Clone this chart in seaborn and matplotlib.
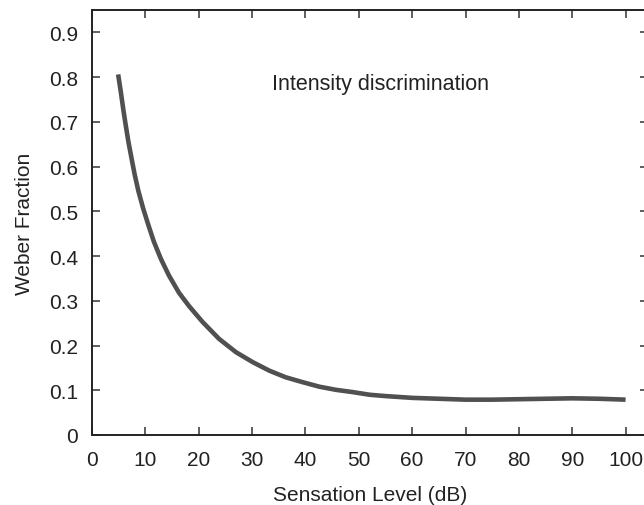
import matplotlib
matplotlib.use("Agg")
import matplotlib.pyplot as plt
import seaborn as sns
import pandas as pd

# Weber fraction for intensity discrimination vs. sensation level
sensation_level = [4.9, 5.4, 5.85, 6.3, 6.8, 7.4, 8.0, 8.7, 9.6, 10.6, 11.6, 12.9,
                   14.4, 16.3, 18.2, 20.7, 23.8, 27.0, 30.1, 33.2, 36.3, 39.5,
                   42.6, 45.7, 48.8, 52, 55, 60, 65, 70, 75, 80, 85, 90, 95, 100]
weber_fraction = [0.806, 0.767, 0.729, 0.694, 0.657, 0.619, 0.582, 0.545, 0.506,
                  0.468, 0.432, 0.394, 0.357, 0.318, 0.288, 0.253, 0.215, 0.185,
                  0.163, 0.144, 0.129, 0.118, 0.108, 0.101, 0.096, 0.090, 0.087,
                  0.083, 0.081, 0.079, 0.079, 0.080, 0.081, 0.082, 0.081, 0.079]

x_ticks = [0, 10, 20, 30, 40, 50, 60, 70, 80, 90, 100]
y_ticks = [0, 0.1, 0.2, 0.3, 0.4, 0.5, 0.6, 0.7, 0.8, 0.9]
y_tick_labels = ["0", "0.1", "0.2", "0.3", "0.4", "0.5", "0.6", "0.7", "0.8", "0.9"]

sns.set_style("ticks")
plt.rcParams["font.family"] = ["Liberation Sans", "DejaVu Sans"]

df = pd.DataFrame({"level": sensation_level, "weber": weber_fraction})

fig = plt.figure(figsize=(6.44, 5.06), dpi=100)
ax = fig.add_axes([92 / 644, 1 - 436 / 506, 556 / 644, 425 / 506])

sns.lineplot(data=df, x="level", y="weber", ax=ax, color="#505050",
             linewidth=3.3, solid_capstyle="butt", solid_joinstyle="round")

ax.set_xlim(0, 104.2)
ax.set_ylim(0, 0.95)
ax.set_xticks(x_ticks)
ax.set_yticks(y_ticks)
ax.set_yticklabels(y_tick_labels)

for side in ["top", "right", "bottom", "left"]:
    ax.spines[side].set_visible(True)
    ax.spines[side].set_linewidth(1.4)
    ax.spines[side].set_color("#222222")

ax.tick_params(axis="both", direction="in", length=6, width=1.1,
               color="#333333", labelsize=15, labelcolor="#222222",
               top=True, right=True)
ax.tick_params(axis="x", pad=11)
ax.tick_params(axis="y", pad=10)

ax.set_xlabel("Sensation Level (dB)", fontsize=15, color="#222222", labelpad=11)
ax.set_ylabel("Weber Fraction", fontsize=15, color="#222222", labelpad=11)

ax.text(33.8, 0.785, "Intensity discrimination", fontsize=15.5,
        color="#222222", ha="left", va="center")

fig.savefig("out.png", dpi=100)
